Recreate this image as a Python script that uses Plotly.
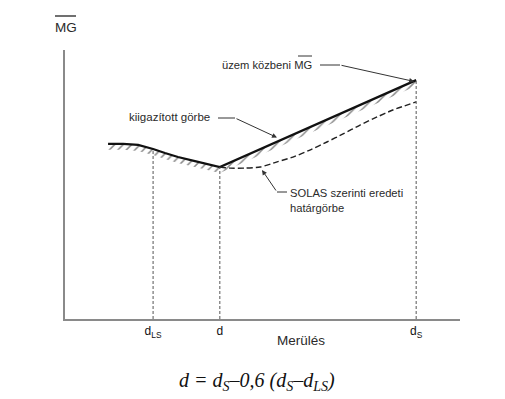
import numpy as np
import plotly.graph_objects as go

# ---- data (abstract units: x = draught, y = MG) ----
x_upper = [10.9, 14.7, 18.5, 22.3, 25.3, 28.6, 32.9, 36.2, 39.2, 88.9]
y_upper = [65.1, 65.1, 64.7, 63.2, 61.7, 60.2, 58.7, 57.6, 56.5, 88.8]

x_solas = [39.2, 41.8, 45.6, 49.4, 53.7, 57.7, 62.0, 66.3, 70.4, 74.7, 79.0, 83.0, 88.9]
y_solas = [56.5, 56.1, 56.1, 56.5, 58.4, 60.2, 62.8, 65.8, 68.8, 72.1, 75.1, 77.7, 80.7]

tick_vals = [22.3, 39.2, 88.9]
tick_text = ["d<sub>LS</sub>", "d", "d<sub>S</sub>"]

HATCH_DEPTH = 2.2

# plot-area geometry helpers (pixels -> axis units) for label placement
def X(px):
    return (px - 65) / 3.95

def Y(py):
    return (319 - py) / 2.69

def PX(px):
    return (px - 65) / 395

def PY(py):
    return (319 - py) / 269

FONT = "Liberation Sans, Arial, sans-serif"
TXT = "#2a2a2a"

fig = go.Figure()

# hatching band under the corrected curve
y_off = [v - HATCH_DEPTH for v in y_upper]
fig.add_trace(go.Scatter(x=x_upper, y=y_off, mode="lines",
                         line=dict(width=0, color="rgba(0,0,0,0)"),
                         hoverinfo="skip", showlegend=False))
fig.add_trace(go.Scatter(x=x_upper, y=y_upper, mode="lines",
                         line=dict(width=2.2, color="#111"),
                         fill="tonexty", fillcolor="rgba(0,0,0,0)",
                         fillpattern=dict(shape="/", fgcolor="#111",
                                          bgcolor="rgba(0,0,0,0)",
                                          size=6, solidity=0.25),
                         hoverinfo="skip", showlegend=False))
# original SOLAS curve (dashed)
fig.add_trace(go.Scatter(x=x_solas, y=y_solas, mode="lines",
                         line=dict(width=1.4, color="#222", dash="6px,3px",
                                   shape="spline", smoothing=0.6),
                         hoverinfo="skip", showlegend=False))

shapes = []
# vertical dashed lines at the draughts
for xv in tick_vals:
    top = float(np.interp(xv, x_upper, y_upper))
    shapes.append(dict(type="line", xref="x", yref="y", x0=xv, x1=xv,
                       y0=0, y1=top,
                       line=dict(color="#555", width=1, dash="3px,2px")))

# leader-line horizontal parts
shapes.append(dict(type="line", xref="x", yref="y", x0=X(320), x1=X(340),
                   y0=Y(65), y1=Y(65), line=dict(color="#333", width=1)))
shapes.append(dict(type="line", xref="x", yref="y", x0=X(218), x1=X(235),
                   y0=Y(118), y1=Y(118), line=dict(color="#333", width=1)))
shapes.append(dict(type="line", xref="x", yref="y", x0=X(277), x1=X(287),
                   y0=Y(192), y1=Y(192), line=dict(color="#333", width=1)))
# overlines for MG
shapes.append(dict(type="line", xref="paper", yref="paper", x0=PX(55), x1=PX(76),
                   y0=PY(16), y1=PY(16), line=dict(color="#222", width=1.3)))
shapes.append(dict(type="line", xref="x", yref="y", x0=X(298), x1=X(312),
                   y0=Y(56), y1=Y(56), line=dict(color="#333", width=1)))

annotations = []
def arrow(tipx, tipy, fromx, fromy):
    annotations.append(dict(x=tipx, y=tipy, xref="x", yref="y",
                            ax=fromx, ay=fromy, axref="x", ayref="y",
                            text="", showarrow=True, arrowhead=2,
                            arrowsize=1, arrowwidth=1, arrowcolor="#333"))

arrow(x_upper[-1] - 0.5, y_upper[-1] - 0.5, X(340), Y(65))
arrow(X(277), Y(137.5), X(235), Y(118))
arrow(X(262), Y(170), X(277), Y(192))

def label(text, px, py, size=11.2, xanchor="left", ref="x", **kw):
    if ref == "x":
        annotations.append(dict(x=X(px), y=Y(py), xref="x", yref="y", text=text,
                                showarrow=False, xanchor=xanchor, yanchor="middle",
                                font=dict(family=FONT, size=size, color=TXT), **kw))
    else:
        annotations.append(dict(x=PX(px), y=PY(py), xref="paper", yref="paper", text=text,
                                showarrow=False, xanchor=xanchor, yanchor="middle",
                                font=dict(family=FONT, size=size, color=TXT), **kw))

label("üzem közbeni MG", 220, 65)
label("kiigazított görbe", 127, 117, size=11.5)
label("SOLAS szerinti eredeti", 288, 193)
label("határgörbe", 288, 208)
label("MG", 66, 27, size=13.5, xanchor="center", ref="paper")
label("Merülés", 301, 340, size=13.5, xanchor="center", ref="paper")
annotations.append(dict(x=PX(257), y=PY(381), xref="paper", yref="paper",
                        text="<i>d = d<sub>S</sub>–0,6 (d<sub>S</sub>–d<sub>LS</sub>)</i>",
                        showarrow=False, xanchor="center", yanchor="middle",
                        font=dict(family="Liberation Serif, Times New Roman, serif",
                                  size=20, color="#111")))

fig.update_layout(
    width=505, height=399,
    margin=dict(l=65, r=45, t=50, b=80),
    paper_bgcolor="white", plot_bgcolor="white",
    showlegend=False,
    shapes=shapes, annotations=annotations,
    xaxis=dict(range=[0, 100], showgrid=False, zeroline=False,
               showline=True, linecolor="#8a8a8a", linewidth=1.5,
               tickmode="array", tickvals=tick_vals, ticktext=tick_text,
               ticks="", tickfont=dict(family=FONT, size=12, color="#111"),
               fixedrange=True),
    yaxis=dict(range=[0, 100], showgrid=False, zeroline=False,
               showline=True, linecolor="#8a8a8a", linewidth=1.5,
               showticklabels=False, ticks="", fixedrange=True),
)

fig.write_html("out.html", config={"displayModeBar": False},
               post_script="document.body.style.margin='0px';document.body.style.overflow='hidden';")
